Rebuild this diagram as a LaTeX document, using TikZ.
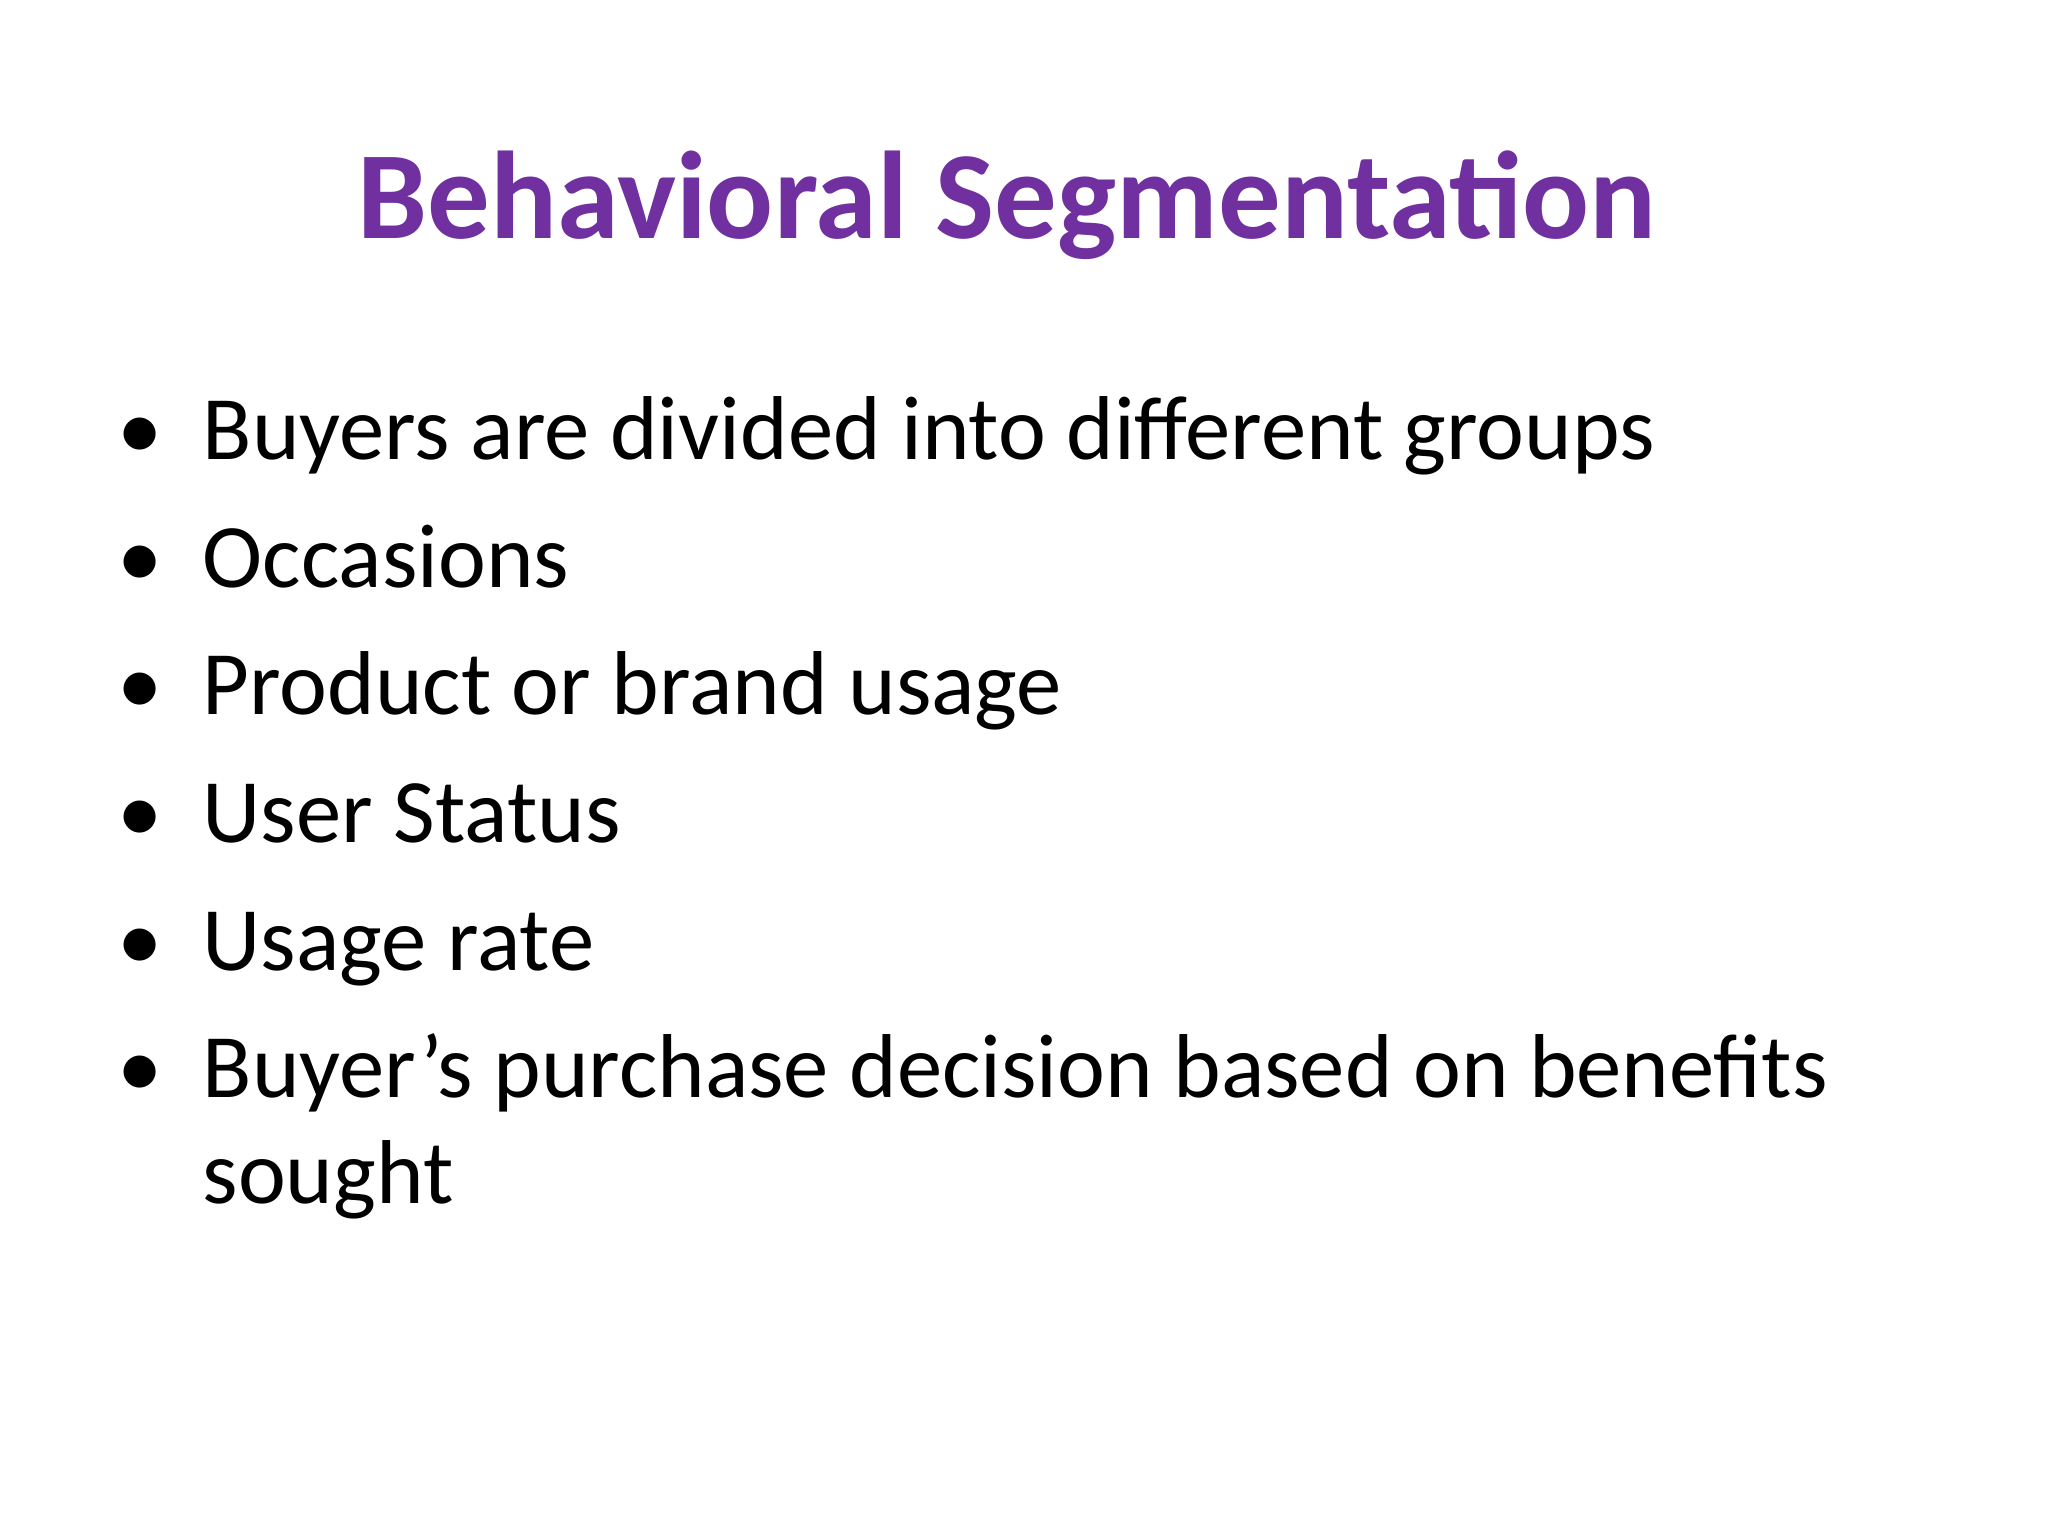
\documentclass[tikz,border=0pt]{standalone}
\usepackage{fontspec}
\setmainfont{Carlito}
\definecolor{titlepurple}{HTML}{7030A0}
\begin{document}
\begin{tikzpicture}[x=1cm,y=1cm,
  bodytext/.style={anchor=base west,inner sep=0pt,font=\fontsize{25.8}{31}\selectfont},
  bul/.style={anchor=base,inner sep=0pt,font=\fontsize{25.8}{31}\selectfont}]
\useasboundingbox[fill=white] (0,0) rectangle (20.48,-15.36);
\node[anchor=base,inner sep=0pt,text=titlepurple,font=\fontsize{35.5}{42}\selectfont\bfseries] (title) at (10.07,-2.39) {Behavioral Segmentation};
\foreach \t [count=\i] in {Buyers are divided into different groups,Occasions,Product or brand usage,User Status,Usage rate,Buyer’s purchase decision based on benefits}{
  \node[bul] (b\i) at (1.40,{-4.60-1.275*(\i-1)}) {•};
  \node[bodytext] (t\i) at (2.02,{-4.60-1.275*(\i-1)}) {\t};
}
\node[bodytext] (t7) at (2.02,-12.03) {sought};
\end{tikzpicture}
\end{document}
